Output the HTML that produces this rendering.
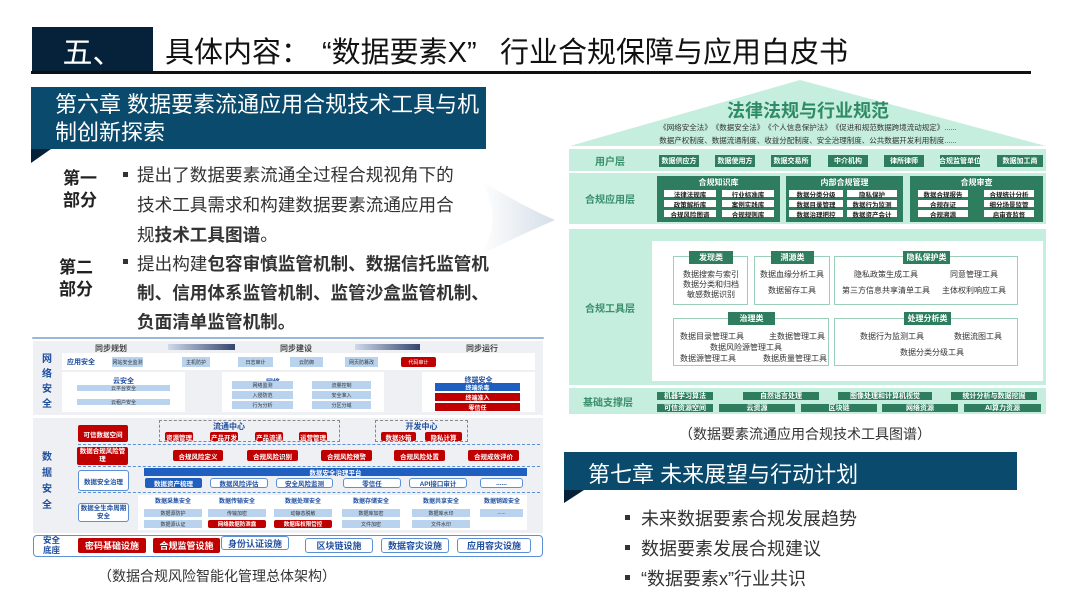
<!DOCTYPE html>
<html><head><meta charset="utf-8">
<style>
*{margin:0;padding:0;box-sizing:border-box}
body{width:1080px;height:604px;overflow:hidden;background:#fff;font-family:"Liberation Sans","Noto Sans CJK SC",sans-serif;position:relative}
.a{position:absolute}
.c{position:absolute;display:flex;align-items:center;justify-content:center;text-align:center;white-space:nowrap}
.g{background:#2e7d5f;color:#fff;font-size:7px;font-weight:bold}
.w{background:#fff;color:#222;font-size:6.5px;font-weight:bold}
.lay{background:#c6eedf}
.lbl{color:#3a8f6d;font-weight:bold;font-size:10px}
.tb{border:1.5px solid #9ccfb9;background:#fff}
.tag{background:#2e7d5f;color:#fff;font-size:8px;font-weight:bold}
.tt{font-size:8px;color:#333;position:absolute;white-space:nowrap;transform:translateX(-50%)}
.lb{background:#b9d3ee;color:#333;font-size:5px}
.rd{background:#c00000;color:#fff;font-size:6.5px;font-weight:bold;border-radius:2px}
.ob{border:1.5px solid #5b8fd6;background:#fff;color:#1f4fa0;font-size:6.5px;font-weight:bold;border-radius:3px}
.bt{color:#1f4fa0;font-weight:bold;font-size:7px}
.dl{position:absolute;border-top:1.5px dashed #5b8fd6;height:0}
.txt{font-size:17.6px;color:#333;position:absolute;white-space:nowrap}
.ti{position:absolute;top:29px;font-size:29px;color:#111;white-space:nowrap}
</style></head><body>

<!-- header -->
<div class="c" style="left:32px;top:27px;width:121px;height:45px;background:#06223a;color:#fff;font-size:30px">五、</div>
<div class="ti" style="left:165px">具体内容：</div>
<div class="ti" style="left:322px">“数据要素X”</div>
<div class="ti" style="left:500px">行业合规保障与应用白皮书</div>
<div class="a" style="left:31px;top:71px;width:1000px;height:3px;background:#111"></div>

<!-- chapter 6 -->
<div class="a" style="left:31px;top:87px;width:455px;height:62px;background:#0a4a6d"></div>
<div class="a" style="left:55px;top:91px;color:#fff;font-size:22px;line-height:28px;width:430px">第六章 数据要素流通应用合规技术工具与机制创新探索</div>
<div class="a" style="left:31px;top:149px;width:0;height:0;border-left:20px solid #06223a;border-bottom:14px solid transparent"></div>
<div class="a" style="left:63px;top:168px;font-size:17px;font-weight:bold;line-height:22px;color:#222">第一<br>部分</div>
<div class="a" style="left:59px;top:257px;font-size:17px;font-weight:bold;line-height:22px;color:#222">第二<br>部分</div>
<div class="a" style="left:123px;top:172px;width:5px;height:5px;background:#333"></div>
<div class="a" style="left:123px;top:259px;width:5px;height:5px;background:#333"></div>
<div class="txt" style="left:137px;top:162px">提出了数据要素流通全过程合规视角下的</div>
<div class="txt" style="left:137px;top:192px">技术工具需求和构建数据要素流通应用合</div>
<div class="txt" style="left:137px;top:222px">规<b>技术工具图谱</b>。</div>
<div class="txt" style="left:137px;top:251px">提出构建<b>包容审慎监管机制、数据信托监管机</b></div>
<div class="txt" style="left:137px;top:280px;font-weight:bold">制、信用体系监管机制、监管沙盒监管机制、</div>
<div class="txt" style="left:137px;top:309px;font-weight:bold">负面清单监管机制。</div>
<div class="a" style="left:32px;top:337px;width:512px;height:2px;background:#9bb7dc;border-radius:2px"></div>

<!-- arrow chevron -->
<svg class="a" style="left:480px;top:175px" width="80" height="80"><defs><linearGradient id="gr" x1="0" x2="1"><stop offset="0" stop-color="#fff"/><stop offset="1" stop-color="#d5dee8"/></linearGradient></defs><path d="M0 5 Q40 30 75 45 Q40 60 0 80 Q25 45 0 5Z" fill="url(#gr)"/></svg>

<!-- right diagram -->
<svg class="a" style="left:568px;top:78px" width="480" height="70"><polygon points="2,68 232,2 478,68" fill="#c6eedf"/></svg>
<div class="a" style="left:568px;top:97px;width:480px;text-align:center;font-size:18px;font-weight:bold;color:#2e8b66">法律法规与行业规范</div>
<div class="a" style="left:568px;top:122px;width:480px;text-align:center;font-size:7.5px;color:#333">《网络安全法》　《数据安全法》　《个人信息保护法》　《促进和规范数据跨境流动规定》......</div>
<div class="a" style="left:568px;top:135px;width:480px;text-align:center;font-size:7.5px;color:#333">数据产权制度、数据流通制度、收益分配制度、安全治理制度、公共数据开发利用制度......</div>

<div class="a lay" style="left:569px;top:149px;width:477px;height:22px"></div>
<div class="c lbl" style="left:575px;top:149px;width:70px;height:22px">用户层</div>
<div class="c g" style="left:659px;top:155px;width:40px;height:12px">数据供应方</div>
<div class="c g" style="left:715px;top:155px;width:40px;height:12px">数据使用方</div>
<div class="c g" style="left:771px;top:155px;width:40px;height:12px">数据交易所</div>
<div class="c g" style="left:828px;top:155px;width:40px;height:12px">中介机构</div>
<div class="c g" style="left:884px;top:155px;width:40px;height:12px">律所律师</div>
<div class="c g" style="left:940px;top:155px;width:40px;height:12px">合规监管单位</div>
<div class="c g" style="left:997px;top:155px;width:46px;height:12px">数据加工商</div>

<div class="a lay" style="left:569px;top:173px;width:477px;height:51px"></div>
<div class="c lbl" style="left:575px;top:173px;width:70px;height:51px">合规应用层</div>
<div class="a g" style="left:657px;top:176px;width:123px;height:46px"></div>
<div class="a g" style="left:786px;top:176px;width:117px;height:46px"></div>
<div class="a g" style="left:910px;top:176px;width:133px;height:46px"></div>
<div class="c" style="left:657px;top:177px;width:123px;height:11px;color:#fff;font-size:8px;font-weight:bold">合规知识库</div>
<div class="c" style="left:786px;top:177px;width:117px;height:11px;color:#fff;font-size:8px;font-weight:bold">内部合规管理</div>
<div class="c" style="left:910px;top:177px;width:133px;height:11px;color:#fff;font-size:8px;font-weight:bold">合规审查</div>
<div class="c w" style="left:664px;top:190px;width:52px;height:7px">法律法规库</div>
<div class="c w" style="left:722px;top:190px;width:52px;height:7px">行业标准库</div>
<div class="c w" style="left:664px;top:200px;width:52px;height:7px">政策解析库</div>
<div class="c w" style="left:722px;top:200px;width:52px;height:7px">案例实践库</div>
<div class="c w" style="left:664px;top:210px;width:52px;height:7px">合规风险图谱</div>
<div class="c w" style="left:722px;top:210px;width:52px;height:7px">合规规则库</div>
<div class="c w" style="left:789px;top:190px;width:54px;height:7px">数据分类分级</div>
<div class="c w" style="left:847px;top:190px;width:50px;height:7px">隐私保护</div>
<div class="c w" style="left:789px;top:200px;width:54px;height:7px">数据目录管理</div>
<div class="c w" style="left:847px;top:200px;width:50px;height:7px">数据行为监测</div>
<div class="c w" style="left:789px;top:210px;width:54px;height:7px">数据治理把控</div>
<div class="c w" style="left:847px;top:210px;width:50px;height:7px">数据资产会计</div>
<div class="c w" style="left:918px;top:190px;width:50px;height:7px">数据合规报告</div>
<div class="c w" style="left:984px;top:190px;width:50px;height:7px">合规统计分析</div>
<div class="c w" style="left:918px;top:200px;width:50px;height:7px">合规存证</div>
<div class="c w" style="left:984px;top:200px;width:50px;height:7px">细分场景监管</div>
<div class="c w" style="left:918px;top:210px;width:50px;height:7px">合规溯源</div>
<div class="c w" style="left:984px;top:210px;width:50px;height:7px">启审查监督</div>

<div class="a lay" style="left:569px;top:229px;width:477px;height:156px"></div>
<div class="c lbl" style="left:575px;top:229px;width:70px;height:156px">合规工具层</div>
<div class="a" style="left:652px;top:241px;width:391px;height:140px;background:#fff"></div>
<div class="a tb" style="left:673px;top:256px;width:75px;height:49px"></div>
<div class="a tb" style="left:754px;top:256px;width:76px;height:49px"></div>
<div class="a tb" style="left:834px;top:256px;width:184px;height:49px"></div>
<div class="a tb" style="left:673px;top:318px;width:156px;height:48px"></div>
<div class="a tb" style="left:834px;top:318px;width:184px;height:48px"></div>
<div class="c tag" style="left:689px;top:251px;width:44px;height:13px">发现类</div>
<div class="c tag" style="left:771px;top:251px;width:43px;height:13px">溯源类</div>
<div class="c tag" style="left:903px;top:251px;width:47px;height:13px">隐私保护类</div>
<div class="c tag" style="left:728px;top:312px;width:47px;height:13px">治理类</div>
<div class="c tag" style="left:904px;top:312px;width:47px;height:13px">处理分析类</div>
<div class="tt" style="left:711px;top:269px">数据搜索与索引</div>
<div class="tt" style="left:711px;top:279px">数据分类和归档</div>
<div class="tt" style="left:711px;top:289px">敏感数据识别</div>
<div class="tt" style="left:792px;top:269px">数据血缘分析工具</div>
<div class="tt" style="left:792px;top:285px">数据留存工具</div>
<div class="tt" style="left:886px;top:269px">隐私政策生成工具</div>
<div class="tt" style="left:974px;top:269px">同意管理工具</div>
<div class="tt" style="left:886px;top:285px">第三方信息共享清单工具</div>
<div class="tt" style="left:974px;top:285px">主体权利响应工具</div>
<div class="tt" style="left:712px;top:331px">数据目录管理工具</div>
<div class="tt" style="left:797px;top:331px">主数据管理工具</div>
<div class="tt" style="left:746px;top:342px">数据风险源管理工具</div>
<div class="tt" style="left:708px;top:353px">数据源管理工具</div>
<div class="tt" style="left:795px;top:353px">数据质量管理工具</div>
<div class="tt" style="left:892px;top:331px">数据行为监测工具</div>
<div class="tt" style="left:978px;top:331px">数据流图工具</div>
<div class="tt" style="left:932px;top:347px">数据分类分级工具</div>

<div class="a lay" style="left:569px;top:388px;width:477px;height:26px"></div>
<div class="c lbl" style="left:573px;top:388px;width:70px;height:26px">基础支撑层</div>
<div class="c g" style="left:657px;top:392px;width:56px;height:8px">机器学习算法</div>
<div class="c g" style="left:743px;top:392px;width:76px;height:8px">自然语言处理</div>
<div class="c g" style="left:838px;top:392px;width:94px;height:8px">图像处理和计算机视觉</div>
<div class="c g" style="left:951px;top:392px;width:86px;height:8px">统计分析与数据挖掘</div>
<div class="c g" style="left:657px;top:404px;width:56px;height:8px">可信资源空间</div>
<div class="c g" style="left:719px;top:404px;width:76px;height:8px">云资源</div>
<div class="c g" style="left:801px;top:404px;width:76px;height:8px">区块链</div>
<div class="c g" style="left:882px;top:404px;width:76px;height:8px">网络资源</div>
<div class="c g" style="left:964px;top:404px;width:77px;height:8px">AI算力资源</div>

<div class="a" style="left:679px;top:424px;font-size:14px;color:#333;white-space:nowrap">（数据要素流通应用合规技术工具图谱）</div>

<!-- chapter 7 -->
<div class="a" style="left:564px;top:452px;width:453px;height:38px;background:#0a4a6d"></div>
<div class="a" style="left:588px;top:457px;color:#fff;font-size:22px;white-space:nowrap">第七章 未来展望与行动计划</div>
<div class="a" style="left:564px;top:490px;width:0;height:0;border-left:20px solid #06223a;border-bottom:13px solid transparent"></div>
<div class="a" style="left:625px;top:515px;width:5px;height:5px;background:#333"></div>
<div class="a" style="left:625px;top:545px;width:5px;height:5px;background:#333"></div>
<div class="a" style="left:625px;top:575px;width:5px;height:5px;background:#333"></div>
<div class="txt" style="left:641px;top:505px;font-size:18px">未来数据要素合规发展趋势</div>
<div class="txt" style="left:641px;top:535px;font-size:18px">数据要素发展合规建议</div>
<div class="txt" style="left:641px;top:565px;font-size:18px">“数据要素x”行业共识</div>

<!-- left bottom diagram -->
<div class="a" style="left:33px;top:341px;width:510px;height:74px;background:#eef0f3"></div>
<div class="a bt" style="left:95px;top:343px;font-size:8px;color:#444">同步规划</div>
<div class="a bt" style="left:280px;top:343px;font-size:8px;color:#444">同步建设</div>
<div class="a bt" style="left:466px;top:343px;font-size:8px;color:#444">同步运行</div>
<div class="a" style="left:168px;top:344px;width:67px;height:6px;background:linear-gradient(90deg,#cfd9ea,#34456e)"></div>
<div class="a" style="left:355px;top:344px;width:65px;height:6px;background:linear-gradient(90deg,#cfd9ea,#34456e)"></div>
<div class="a" style="left:42px;top:352px;width:12px;font-size:10px;font-weight:bold;color:#1f4fa0;line-height:15px">网络安全</div>
<div class="a" style="left:62px;top:353px;width:473px;height:17px;background:#fff"></div>
<div class="a bt" style="left:67px;top:357px">应用安全</div>
<div class="c lb" style="left:112px;top:357px;width:31px;height:10px">网站安全监测</div>
<div class="c lb" style="left:182px;top:357px;width:28px;height:10px">主机防护</div>
<div class="c lb" style="left:238px;top:357px;width:35px;height:10px">日志审计</div>
<div class="c lb" style="left:290px;top:357px;width:33px;height:10px">云防御</div>
<div class="c lb" style="left:345px;top:357px;width:33px;height:10px">网页防篡改</div>
<div class="c rd" style="left:401px;top:357px;width:35px;height:10px;font-size:5px;font-weight:normal">代码审计</div>
<div class="a" style="left:62px;top:372px;width:123px;height:40px;background:#fff"></div>
<div class="a" style="left:222px;top:372px;width:162px;height:40px;background:#fff"></div>
<div class="a" style="left:422px;top:372px;width:113px;height:40px;background:#fff"></div>
<div class="c bt" style="left:62px;top:376px;width:123px;height:9px">云安全</div>
<div class="c lb" style="left:77px;top:385px;width:93px;height:6px">云平台安全</div>
<div class="c lb" style="left:77px;top:399px;width:93px;height:6px">云租户安全</div>
<div class="c bt" style="left:262px;top:377px;width:22px;height:9px">网络</div>
<div class="c lb" style="left:232px;top:381px;width:61px;height:8px">网络监测</div>
<div class="c lb" style="left:232px;top:391px;width:61px;height:8px">入侵防范</div>
<div class="c lb" style="left:232px;top:401px;width:61px;height:8px">行为分析</div>
<div class="c lb" style="left:312px;top:381px;width:59px;height:8px">流量控制</div>
<div class="c lb" style="left:312px;top:391px;width:59px;height:8px">安全准入</div>
<div class="c lb" style="left:312px;top:401px;width:59px;height:8px">分区分域</div>
<div class="c bt" style="left:422px;top:376px;width:113px;height:8px">终端安全</div>
<div class="c" style="left:435px;top:383px;width:85px;height:8px;background:#1f5fbf;color:#fff;font-size:6px;font-weight:bold">终端杀毒</div>
<div class="c" style="left:435px;top:393px;width:85px;height:8px;background:#c00000;color:#fff;font-size:6px;font-weight:bold">终端准入</div>
<div class="c" style="left:435px;top:403px;width:85px;height:8px;background:#c00000;color:#fff;font-size:6px;font-weight:bold">零信任</div>

<div class="a" style="left:33px;top:418px;width:510px;height:115px;background:#eef0f3"></div>
<div class="a" style="left:42px;top:450px;width:12px;font-size:10px;font-weight:bold;color:#1f4fa0;line-height:16px">数据安全</div>
<div class="c rd" style="left:78px;top:425px;width:50px;height:17px">可信数据空间</div>
<div class="a" style="left:159px;top:420px;width:181px;height:22px;border:1px dashed #888"></div>
<div class="a" style="left:375px;top:420px;width:93px;height:22px;border:1px dashed #888"></div>
<div class="c bt" style="left:159px;top:421px;width:140px;height:10px;font-size:8px">流通中心</div>
<div class="c bt" style="left:375px;top:421px;width:93px;height:10px;font-size:8px">开发中心</div>
<div class="c rd" style="left:165px;top:432px;width:28px;height:9px">资源管理</div>
<div class="c rd" style="left:210px;top:432px;width:28px;height:9px">产品开发</div>
<div class="c rd" style="left:255px;top:432px;width:28px;height:9px">产品流通</div>
<div class="c rd" style="left:299px;top:432px;width:28px;height:9px">运营管理</div>
<div class="c rd" style="left:381px;top:432px;width:35px;height:9px">数据沙箱</div>
<div class="c rd" style="left:425px;top:432px;width:37px;height:9px">隐私计算</div>
<div class="dl" style="left:78px;top:444px;width:462px"></div>
<div class="c rd" style="left:77px;top:447px;width:51px;height:18px;white-space:normal;line-height:8px">数据合规风险管理</div>
<div class="c rd" style="left:173px;top:450px;width:50px;height:11px">合规风险定义</div>
<div class="c rd" style="left:247px;top:450px;width:51px;height:11px">合规风险识别</div>
<div class="c rd" style="left:321px;top:450px;width:51px;height:11px">合规风险预警</div>
<div class="c rd" style="left:394px;top:450px;width:51px;height:11px">合规风险处置</div>
<div class="c rd" style="left:468px;top:450px;width:51px;height:11px">合规成效评价</div>
<div class="dl" style="left:78px;top:466px;width:462px"></div>
<div class="c ob" style="left:78px;top:470px;width:51px;height:21px">数据安全治理</div>
<div class="c" style="left:144px;top:468px;width:383px;height:8px;background:#1f5fbf;color:#fff;font-size:6.5px;font-weight:bold">数据安全治理平台</div>
<div class="c" style="left:145px;top:478px;width:57px;height:10px;background:#1f5fbf;color:#fff;font-size:6.5px;font-weight:bold;border-radius:2px">数据资产梳理</div>
<div class="c ob" style="left:210px;top:478px;width:58px;height:10px">数据风险评估</div>
<div class="c ob" style="left:276px;top:478px;width:57px;height:10px">安全风险监测</div>
<div class="c ob" style="left:343px;top:478px;width:58px;height:10px">零信任</div>
<div class="c ob" style="left:409px;top:478px;width:58px;height:10px">API接口审计</div>
<div class="c ob" style="left:480px;top:478px;width:43px;height:10px">......</div>
<div class="dl" style="left:78px;top:492px;width:462px"></div>
<div class="c ob" style="left:78px;top:503px;width:51px;height:19px;white-space:normal;line-height:8px">数据全生命周期安全</div>
<div class="a" style="left:138px;top:495px;width:389px;height:35px;background:#fff"></div>
<div class="c bt" style="left:144px;top:496px;width:58px;height:9px;font-size:6px">数据采集安全</div>
<div class="c bt" style="left:208px;top:496px;width:58px;height:9px;font-size:6px">数据传输安全</div>
<div class="c bt" style="left:274px;top:496px;width:58px;height:9px;font-size:6px">数据处理安全</div>
<div class="c bt" style="left:342px;top:496px;width:58px;height:9px;font-size:6px">数据存储安全</div>
<div class="c bt" style="left:412px;top:496px;width:58px;height:9px;font-size:6px">数据共享安全</div>
<div class="c bt" style="left:480px;top:496px;width:44px;height:9px;font-size:6px">数据销毁安全</div>
<div class="c lb" style="left:144px;top:509px;width:58px;height:8px">数据源防护</div>
<div class="c lb" style="left:144px;top:520px;width:58px;height:8px">数据源认证</div>
<div class="c lb" style="left:208px;top:509px;width:58px;height:8px">传输加密</div>
<div class="c rd" style="left:208px;top:520px;width:58px;height:8px;font-size:5.5px">网络数据防泄露</div>
<div class="c lb" style="left:274px;top:509px;width:58px;height:8px">动静态脱敏</div>
<div class="c rd" style="left:274px;top:520px;width:58px;height:8px;font-size:5.5px">数据库权限管控</div>
<div class="c lb" style="left:342px;top:509px;width:58px;height:8px">数据库加密</div>
<div class="c lb" style="left:342px;top:520px;width:58px;height:8px">文件加密</div>
<div class="c lb" style="left:412px;top:509px;width:58px;height:8px">数据库水印</div>
<div class="c lb" style="left:412px;top:520px;width:58px;height:8px">文件水印</div>
<div class="c lb" style="left:480px;top:509px;width:43px;height:8px">......</div>

<div class="a" style="left:33px;top:535px;width:510px;height:22px;border:1.5px solid #5b8fd6;border-radius:4px;background:#fff"></div>
<div class="a" style="left:43px;top:535px;font-size:8.5px;font-weight:bold;color:#1f4fa0;line-height:10px;width:20px">安全底座</div>
<div class="c rd" style="left:78px;top:538px;width:68px;height:15px;font-size:9px">密码基础设施</div>
<div class="c rd" style="left:153px;top:538px;width:67px;height:15px;font-size:9px">合规监管设施</div>
<div class="c ob" style="left:221px;top:536px;width:68px;height:14px;font-size:9px">身份认证设施</div>
<div class="c ob" style="left:305px;top:538px;width:68px;height:15px;font-size:9px">区块链设施</div>
<div class="c ob" style="left:381px;top:538px;width:68px;height:15px;font-size:9px">数据容灾设施</div>
<div class="c ob" style="left:457px;top:538px;width:74px;height:15px;font-size:9px">应用容灾设施</div>

<div class="a" style="left:98px;top:566px;font-size:14px;color:#333;white-space:nowrap">（数据合规风险智能化管理总体架构）</div>
</body></html>
